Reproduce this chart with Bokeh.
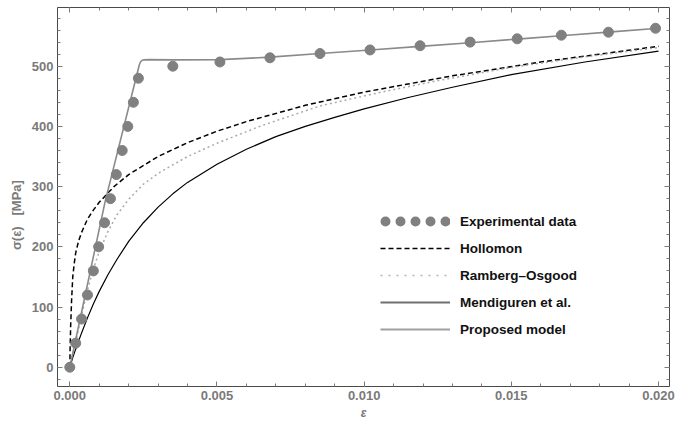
from bokeh.plotting import figure
from bokeh.models import (Range1d, LinearAxis, FixedTicker, Legend, LegendItem,
                          NumeralTickFormatter, BasicTickFormatter)
from bokeh.embed import file_html
from bokeh.resources import INLINE

# ---------------- data ----------------
exp_x = [0, 0.0002, 0.0004, 0.0006, 0.0008, 0.00098, 0.00118, 0.00138, 0.00158,
         0.00178, 0.00197, 0.00216, 0.00233, 0.0035, 0.0051, 0.0068, 0.0085,
         0.0102, 0.0119, 0.0136, 0.0152, 0.0167, 0.0183, 0.0199]
exp_y = [0, 40, 80, 120, 160, 200, 240, 280, 320, 360, 400, 440, 480, 500, 507,
         514, 521, 527, 534, 540, 545.5, 551.5, 556.5, 563]

hol_x = [0, 0.00001, 0.00003, 0.00006, 0.0001, 0.00015, 0.0002, 0.0003, 0.0004,
         0.0006, 0.0008, 0.001, 0.0015, 0.002, 0.003, 0.004, 0.005, 0.006, 0.008,
         0.010, 0.013, 0.016, 0.020]
hol_y = [0, 30, 70, 110, 150, 172, 190, 210, 224, 246, 261, 274, 300, 320, 350,
         373, 392, 408, 435, 457, 484, 507, 533]

ro_x = [0, 0.0002, 0.0004, 0.0006, 0.0008, 0.001, 0.0013, 0.0016, 0.002, 0.0025,
        0.003, 0.004, 0.005, 0.0065, 0.0085, 0.0105, 0.0125, 0.015, 0.0175, 0.020]
ro_y = [0, 42, 86, 128, 163, 192, 226, 253, 279, 304, 322, 350, 372, 401, 434,
        456, 476, 498, 515.5, 531]

men_x = [0, 0.0001, 0.0002, 0.0004, 0.0006, 0.0008, 0.001, 0.0013, 0.0016, 0.002,
         0.0025, 0.003, 0.0035, 0.004, 0.005, 0.006, 0.007, 0.008, 0.009, 0.010,
         0.0115, 0.013, 0.015, 0.0175, 0.020]
men_y = [0, 16, 30, 57, 82, 105, 126, 154, 179, 209, 240, 266, 288, 307, 337, 362,
         383, 400, 415, 429, 448, 465, 486, 507, 525]

prop_x = [0, 0.0012, 0.00236, 0.0024, 0.00245, 0.0025, 0.0027, 0.0035, 0.0051,
          0.0068, 0.0085, 0.0102, 0.0119, 0.0136, 0.0152, 0.0168, 0.0184, 0.0200]
prop_y = [0, 275, 502, 507, 509.5, 510.5, 511, 510.5, 511, 515, 521, 527, 533,
          539, 545, 551, 557, 563]

x_major = [0, 0.005, 0.010, 0.015, 0.020]
x_minor = [i / 1000 for i in range(0, 21)]
y_major = [0, 100, 200, 300, 400, 500]
y_minor = list(range(-20, 600, 20))

legend_labels = ["Experimental data", "Hollomon", "Ramberg\u2013Osgood",
                 "Mendiguren et al.", "Proposed model"]

NAN = float("nan")
NBSP = "\u00a0"

# ---------------- figure ----------------
p = figure(width=682, height=423, output_backend="svg", toolbar_location=None,
           x_range=Range1d(-0.000418, 0.020374), y_range=Range1d(-32, 597.5),
           min_border_left=57, min_border_right=13, min_border_top=7,
           min_border_bottom=37)
p.grid.visible = False
p.outline_line_color = "#4a4a4a"
p.outline_line_width = 1
p.background_fill_color = "white"
p.border_fill_color = "white"

TICK = "#7a7a7a"
FONT = "Liberation Sans"


def style_axis(ax, major, minor, labels):
    ax.ticker = FixedTicker(ticks=major, minor_ticks=minor)
    ax.axis_line_color = None
    ax.major_tick_in = 5
    ax.major_tick_out = 0
    ax.minor_tick_in = 3
    ax.minor_tick_out = 0
    ax.major_tick_line_color = TICK
    ax.minor_tick_line_color = TICK
    if labels:
        ax.major_label_text_font = FONT
        ax.major_label_text_font_style = "bold"
        ax.major_label_text_font_size = "13px"
        ax.major_label_text_color = TICK
        ax.major_label_standoff = 4
        ax.axis_label_text_font = FONT
        ax.axis_label_text_color = TICK
    else:
        ax.major_label_overrides = {t: "" for t in major}
        ax.major_label_standoff = 0


xa = p.xaxis[0]
style_axis(xa, x_major, x_minor, True)
xa.formatter = NumeralTickFormatter(format="0.000")
xa.axis_label = "\u03b5"
xa.axis_label_standoff = 3
xa.axis_label_text_font_style = "bold italic"
xa.axis_label_text_font_size = "12px"

ya = p.yaxis[0]
style_axis(ya, y_major, y_minor, True)
ya.formatter = BasicTickFormatter()
ya.axis_label = "\u03c3(\u03b5)" + NBSP * 3 + "[MPa]" + NBSP * 10
ya.axis_label_standoff = 5
ya.axis_label_text_font_style = "bold"
ya.axis_label_text_font_size = "13px"

top = LinearAxis()
style_axis(top, x_major, x_minor, False)
p.add_layout(top, "above")
right = LinearAxis()
style_axis(right, y_major, y_minor, False)
p.add_layout(right, "right")

# ---------------- curves ----------------
p.line(hol_x, hol_y, line_color="black", line_width=1.5, line_dash="5 3")
p.line(ro_x, ro_y, line_color="#aaaaaa", line_width=1.5, line_dash="2 3")
p.line(men_x, men_y, line_color="black", line_width=1.2)
p.line(prop_x, prop_y, line_color="#8a8a8a", line_width=1.6)
p.scatter(exp_x, exp_y, size=10, fill_color="#808080", line_color="#808080")

# ---------------- legend (glyph-only renderers, no visible data) ----------------
l1 = p.line([NAN], [NAN], line_color="#808080", line_width=10, line_cap="round",
            line_dash="0 15", line_dash_offset=10)
l2 = p.line([NAN], [NAN], line_color="black", line_width=1.5, line_dash="5 3")
l3 = p.line([NAN], [NAN], line_color="#b5b5b5", line_width=1.5, line_dash="2 6")
l4 = p.line([NAN], [NAN], line_color="#707070", line_width=2.2)
l5 = p.line([NAN], [NAN], line_color="#a0a0a0", line_width=2.2)
items = [LegendItem(label=t, renderers=[r])
         for t, r in zip(legend_labels, [l1, l2, l3, l4, l5])]
legend = Legend(items=items, location=(323, 47), glyph_width=70, glyph_height=20,
                label_height=20, spacing=7, padding=0, margin=0,
                label_standoff=10, border_line_color=None,
                background_fill_alpha=0, label_text_font=FONT,
                label_text_font_style="bold", label_text_font_size="13.5px",
                label_text_color="#111111")
p.add_layout(legend)

open("out.html", "w").write(file_html(p, INLINE))
